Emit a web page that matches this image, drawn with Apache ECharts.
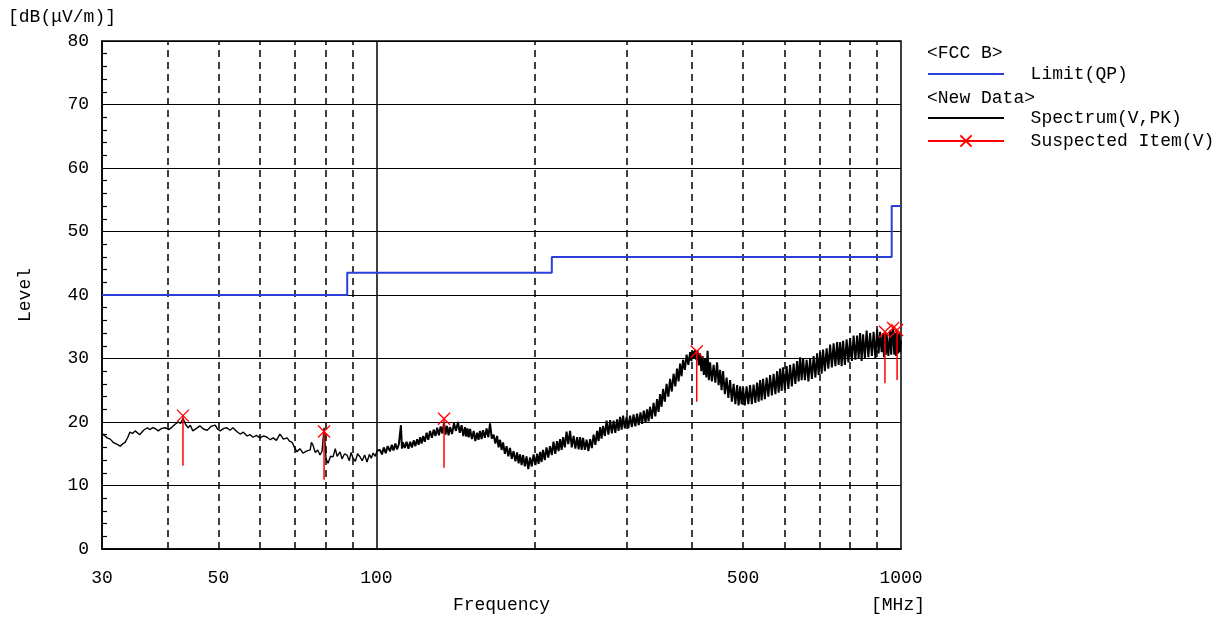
<!DOCTYPE html>
<html><head><meta charset="utf-8">
<script src="https://cdn.jsdelivr.net/npm/echarts@6/dist/echarts.min.js"></script>
<style>html,body{margin:0;padding:0;background:#fff}#c{width:1221px;height:618px}</style>
</head><body><div id="c"></div>
<script>
const FONT = '"Liberation Mono", "DejaVu Sans Mono", monospace';

// axis ticks
const xTickLabels = [30, 50, 100, 500, 1000];
const xDashedGrid = [40, 50, 60, 70, 80, 90, 200, 300, 400, 500, 600, 700, 800, 900];
const xSolidGrid = [100];

// FCC B limit (QP), step points [MHz, dB(uV/m)]
const limitQP = [[30, 40], [88, 43.5], [216, 46], [960, 54], [1000, 54]];

// Spectrum (V, PK) [MHz, dB(uV/m)], 30-100 MHz
const spectrumLow = [
[30.0,18.2],[30.4,17.8],[30.7,17.5],[31.1,17.3],[31.5,16.8],[32.0,16.5],[32.5,16.2],[32.9,16.6],[33.2,16.8],[33.6,17.6],
[33.9,18.4],[34.3,18.2],[34.7,18.6],[35.0,18.3],[35.4,18.0],[36.0,18.7],[36.6,19.1],[37.0,18.8],[37.5,19.1],[38.0,18.9],
[38.4,18.6],[39.0,19.0],[39.6,19.1],[40.2,18.8],[40.8,19.2],[41.3,19.6],[41.9,20.0],[42.4,19.8],[42.8,20.6],[43.3,19.6],
[43.8,19.1],[44.2,19.5],[44.7,18.6],[45.4,19.0],[46.1,19.4],[46.8,18.9],[47.6,18.7],[48.4,19.3],[49.3,19.5],[49.8,18.9],
[50.4,18.6],[51.2,19.0],[51.9,19.1],[52.6,18.7],[53.3,19.1],[54.2,18.5],[55.0,18.1],[55.8,18.4],[56.7,17.8],[57.5,18.0],
[58.2,17.6],[59.1,17.9],[60.0,17.5],[61.0,17.8],[61.9,17.6],[62.8,17.2],[63.6,17.5],[64.5,17.1],[65.5,18.1],[66.5,17.3],
[67.6,17.5],[68.3,17.0],[69.1,16.8],[69.8,16.0],[70.6,15.3],[71.5,15.8],[72.5,15.1],[73.6,15.4],[74.8,15.6],[75.2,16.8],
[75.7,16.4],[76.5,15.2],[77.3,15.6],[78.1,14.8],[78.8,15.4],[79.5,19.1],[80.2,14.2],[80.9,13.5],[81.8,14.6],[82.7,14.5],
[83.5,15.8],[84.2,14.6],[85.3,15.3],[86.0,14.2],[87.0,15.0],[87.9,14.8],[88.8,13.9],[89.5,15.2],[90.3,14.3],[91.2,13.8],
[92.1,15.0],[93.1,14.5],[94.0,13.9],[95.0,14.8],[96.0,13.7],[97.0,14.9],[97.8,14.3],[98.6,15.1],[99.5,14.6],[100.4,15.5]
];

// Spectrum (V, PK), 100-1000 MHz (dense noisy band)
const spectrumHigh = [
[100.4,15.5],
[101.6,15.6],[102.5,14.9],[103.3,16.0],[104.2,15.1],[105.1,16.2],[106.2,15.4],[107.0,16.4],[107.8,15.5],[108.7,16.6],[109.5,15.7],
[110.4,16.5],[111.4,19.5],[111.9,15.8],[112.4,16.8],[113.3,15.9],[114.2,16.9],[115.1,15.8],[116.0,16.9],[116.9,16.0],[117.8,17.1],
[118.7,16.2],[119.6,17.3],[120.4,16.4],[121.2,17.6],[122.0,16.6],[122.8,17.8],[123.7,16.9],[124.7,18.3],[125.6,17.2],[126.6,18.6],
[127.6,17.5],[128.6,18.8],[129.6,17.8],[130.6,19.1],[131.6,17.9],[132.6,19.3],[133.6,18.2],[134.6,19.9],[135.5,18.0],[136.4,19.4],
[137.3,17.9],[138.2,19.2],[139.4,18.1],[140.6,19.8],[141.8,18.6],[143.1,20.0],[144.2,18.3],[145.4,19.5],[146.5,17.8],[147.6,19.2],
[148.4,17.7],[149.2,19.0],[150.0,17.6],[150.9,18.9],[152.1,17.3],[153.3,18.6],[154.4,17.0],[155.6,18.3],[156.6,17.2],[157.6,18.6],
[158.7,17.3],[159.7,18.7],[161.0,17.5],[162.2,19.0],[163.5,17.6],[164.7,19.8],[166.0,17.4],[167.3,18.0],[168.6,16.6],[169.9,17.8],
[171.0,16.0],[172.1,17.2],[173.3,15.6],[174.4,16.8],[175.8,15.0],[177.1,16.2],[178.5,14.6],[179.8,15.9],[181.2,14.2],[182.6,15.4],
[184.1,13.8],[185.5,15.2],[186.7,13.5],[187.9,14.9],[189.2,13.2],[190.4,14.8],[191.9,13.0],[193.3,14.6],[194.8,12.6],[196.3,14.4],
[197.8,13.0],[199.4,14.9],[201.0,13.2],[202.5,15.0],[203.8,13.4],[205.2,15.3],[206.5,13.7],[207.8,15.6],[209.4,14.0],[211.0,16.0],
[212.7,14.4],[214.3,16.2],[216.0,14.8],[217.6,16.9],[219.3,15.0],[221.0,17.0],[222.5,15.4],[224.0,17.3],[225.5,15.6],[227.0,17.6],
[228.7,16.0],[230.4,18.5],[232.2,16.5],[234.0,18.6],[235.8,16.0],[237.7,17.8],[239.5,15.8],[241.4,17.6],[243.0,15.7],[244.6,17.6],
[246.2,15.6],[247.8,17.5],[249.7,15.6],[251.6,17.2],[253.6,15.4],[255.5,17.3],[257.5,15.9],[259.5,18.0],[261.5,16.4],[263.5,18.6],
[265.2,17.0],[267.0,19.2],[268.7,17.4],[270.5,19.4],[272.6,17.8],[274.7,20.2],[276.9,18.0],[279.0,20.3],[281.1,18.2],[283.3,20.2],
[285.4,18.3],[287.6,20.4],[289.5,18.6],[291.4,20.8],[293.4,18.8],[295.3,21.0],[297.6,19.0],[299.9,20.8],[302.2,19.0],[304.5,21.0],
[306.9,19.2],[309.2,21.2],[311.6,19.3],[314.0,21.3],[316.3,19.5],[318.7,21.5],[321.0,19.7],[323.4,21.8],[325.8,19.9],[328.1,22.0],
[330.2,20.1],[332.4,22.4],[335.0,20.5],[337.6,23.0],[340.2,20.9],[342.8,23.6],[345.1,21.6],[347.4,24.4],[349.7,22.4],[352.0,25.2],
[354.7,23.2],[357.4,26.0],[360.2,24.0],[362.9,26.8],[365.7,24.8],[368.6,27.6],[371.4,25.6],[374.3,28.4],[376.8,26.4],[379.3,29.2],
[381.8,27.2],[384.3,29.8],[387.3,28.2],[390.3,30.6],[393.3,29.0],[396.3,31.0],[398.5,29.6],[400.7,31.2],[402.9,30.0],[405.1,31.4],
[407.3,29.8],[409.5,31.2],[411.8,28.9],[414.0,30.8],[416.3,28.0],[418.6,30.4],[420.9,27.4],[423.2,30.0],[425.6,27.0],[427.9,31.2],
[430.3,26.6],[432.6,29.4],[436.0,26.4],[439.4,29.0],[442.7,26.2],[446.1,29.4],[449.1,25.8],[452.1,28.2],[455.0,25.0],[458.0,28.0],
[461.6,24.4],[465.2,27.0],[468.7,23.8],[472.3,26.6],[476.0,23.2],[479.7,26.0],[483.4,22.8],[487.1,25.8],[490.3,22.6],[493.6,25.6],
[496.8,22.8],[500.0,25.4],[503.9,22.6],[507.8,25.6],[511.7,22.8],[515.6,25.8],[519.6,22.8],[523.6,25.9],[527.7,23.0],[531.7,26.2],
[535.3,23.2],[538.8,26.6],[542.4,23.4],[545.9,26.8],[550.2,23.6],[554.5,27.0],[558.7,24.0],[563.0,27.4],[567.4,24.2],[571.8,27.6],
[576.2,24.4],[580.6,28.0],[584.5,24.6],[588.3,28.4],[592.2,24.9],[596.0,28.6],[600.7,25.0],[605.3,28.8],[610.0,25.2],[614.6,29.0],
[619.4,25.6],[624.2,29.2],[629.0,26.0],[633.8,29.6],[638.1,26.4],[642.3,30.2],[646.6,26.6],[650.8,30.0],[655.9,26.6],[660.9,29.8],
[666.0,26.4],[671.0,30.0],[676.3,26.8],[681.5,30.4],[686.8,27.0],[692.0,30.8],[696.6,27.4],[701.2,31.0],[705.8,27.6],[710.4,31.4],
[715.9,28.0],[721.5,31.6],[727.0,28.4],[732.6,32.2],[738.3,28.6],[744.0,32.4],[749.8,28.8],[755.5,32.6],[760.5,29.0],[765.6,32.6],
[770.6,28.8],[775.7,32.8],[781.7,29.0],[787.7,33.0],[793.8,29.4],[799.8,33.2],[806.0,29.6],[812.3,33.6],[818.5,29.8],[824.8,33.6],
[830.3,30.0],[835.8,34.0],[841.3,29.6],[846.8,33.8],[853.4,30.0],[860.0,34.4],[866.6,30.2],[873.2,34.0],[880.0,30.4],[886.8,34.2],
[893.6,30.0],[900.4,34.6],[906.4,30.8],[912.4,34.2],[918.5,31.0],[924.5,34.0],[928.0,30.2],[932.0,34.2],[935.6,30.6],[939.0,33.8],
[946.1,30.4],[953.3,34.4],[958.0,30.6],[962.0,34.0],[966.0,34.8],[970.7,30.6],[975.0,34.0],[979.0,30.4],[983.1,34.5],[988.0,30.8],
[992.0,34.0],[996.0,31.0],[1000,32.8]
];

// Suspected items
const suspFreq = [42.8, 79.5, 134.6, 408, 932, 966, 983];
const suspPeak = [21.0, 18.5, 20.5, 31.1, 34.2, 34.8, 34.5];
const suspBase = [13.1, 10.9, 12.8, 23.2, 26.1, 34.8, 26.6];

const suspData = [];
suspFreq.forEach((f, i) => {
  suspData.push({ value: [f, suspBase[i]], symbol: 'none' });
  suspData.push({ value: [f, suspPeak[i]] });
  suspData.push({ value: [f, '-'], symbol: 'none' });
});

const gridLines = xDashedGrid.map(v => ({ xAxis: v, lineStyle: { type: [7, 5], width: 1.5, color: '#000' } }))
  .concat(xSolidGrid.map(v => ({ xAxis: v, lineStyle: { type: 'solid', width: 1.5, color: '#000' } })));

const FS = 18;
const txt = { color: '#000', fontFamily: FONT, fontSize: FS };
const gfont = FS + 'px ' + FONT;

const chart = echarts.init(document.getElementById('c'), null, { renderer: 'canvas' });
chart.setOption({
  animation: false,
  backgroundColor: '#fff',
  grid: { left: 102, right: 320, top: 41, bottom: 69, show: true, borderColor: '#000', borderWidth: 1.5, outerBoundsMode: 'none' },
  xAxis: {
    type: 'log', logBase: 10, min: 30, max: 1000,
    axisLine: { show: true, lineStyle: { color: '#000', width: 1.5 } },
    axisTick: { show: false },
    minorTick: { show: false },
    axisLabel: { customValues: xTickLabels, margin: 20, formatter: v => String(v), ...txt },
    splitLine: { show: false },
    name: 'Frequency', nameLocation: 'middle', nameGap: 47, nameTextStyle: txt
  },
  yAxis: {
    type: 'value', min: 0, max: 80, interval: 10,
    axisLine: { show: true, lineStyle: { color: '#000', width: 1.5 } },
    axisTick: { show: false, inside: true },
    minorTick: { show: true, splitNumber: 5, length: 5, lineStyle: { color: '#000', width: 1.2 } },
    axisLabel: { margin: 13, ...txt },
    splitLine: { show: true, lineStyle: { color: '#000', width: 1.2 } },
    name: 'Level', nameLocation: 'middle', nameGap: 68, nameRotate: 90, nameTextStyle: txt
  },
  legend: [
    { left: 927, top: 65, padding: 0, orient: 'vertical', itemWidth: 76, itemHeight: 14, itemGap: 5, selectedMode: false,
      data: [{ name: 'Limit(QP)', itemStyle: { opacity: 0 } }], formatter: n => '  ' + n, textStyle: txt },
    { left: 927, top: 109, padding: 0, orient: 'vertical', itemWidth: 76, itemHeight: 14, itemGap: 5, selectedMode: false,
      data: [{ name: 'Spectrum(V,PK)', itemStyle: { opacity: 0 } }, 'Suspected Item(V)'], formatter: n => '  ' + n, textStyle: txt }
  ],
  graphic: [
    { type: 'text', left: 8, top: 8, style: { text: '[dB(μV/m)]', font: gfont, fill: '#000' } },
    { type: 'text', left: 927, top: 44, style: { text: '<FCC B>', font: gfont, fill: '#000' } },
    { type: 'text', left: 927, top: 89, style: { text: '<New Data>', font: gfont, fill: '#000' } },
    { type: 'text', left: 871, top: 596, style: { text: '[MHz]', font: gfont, fill: '#000' } }
  ],
  series: [
    {
      name: 'Limit(QP)', type: 'line', step: 'end', data: limitQP, symbol: 'none',
      lineStyle: { color: '#2a3fd8', width: 2 }, itemStyle: { color: '#2a3fd8' }, z: 3,
      markLine: { silent: true, symbol: 'none', label: { show: false }, data: gridLines, z: 1 }
    },
    {
      name: 'Spectrum(V,PK)', type: 'line', data: spectrumLow, symbol: 'none', sampling: null,
      lineStyle: { color: '#000', width: 1.4 }, itemStyle: { color: '#000' }, z: 4
    },
    {
      name: 'Spectrum(V,PK)', type: 'line', data: spectrumHigh, symbol: 'none', sampling: null,
      lineStyle: { color: '#000', width: 2 }, itemStyle: { color: '#000' }, z: 4
    },
    {
      name: 'Suspected Item(V)', type: 'line', data: suspData, connectNulls: false,
      symbol: 'path://M0,0L12,12M12,0L0,12', symbolSize: 12, showAllSymbol: true,
      lineStyle: { color: '#ff0000', width: 1.5 },
      itemStyle: { color: '#ff0000', borderColor: '#ff0000', borderWidth: 1.3 }, z: 5
    }
  ]
});
</script></body></html>
